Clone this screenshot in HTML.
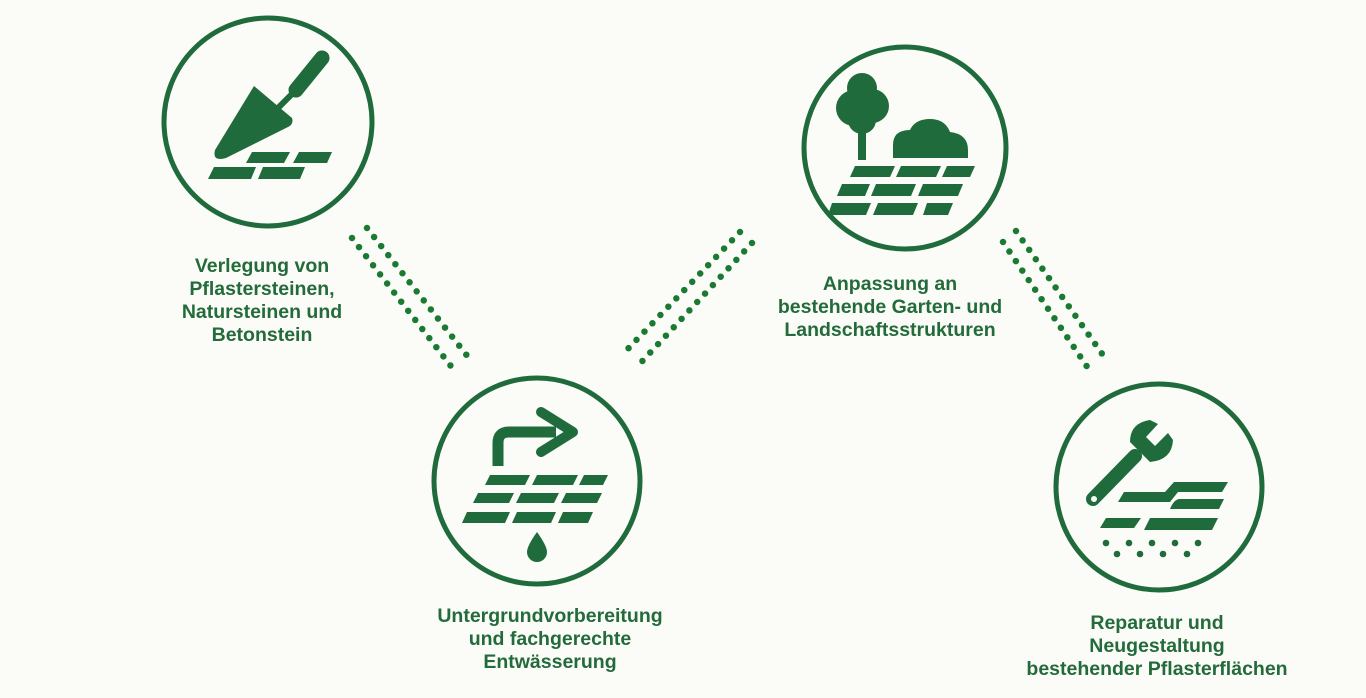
<!DOCTYPE html>
<html><head><meta charset="utf-8"><style>
html,body{margin:0;padding:0;background:#fbfbf7;}
svg{display:block}
text{font-family:"Liberation Sans",Arial,sans-serif;font-weight:bold;font-size:19.5px;fill:#236b3a;text-anchor:middle}
</style></head><body>
<svg width="1366" height="698" viewBox="0 0 1366 698" xmlns="http://www.w3.org/2000/svg">
<rect width="1366" height="698" fill="#fbfbf7"/>
<g fill="none" stroke="#1f6b3b" stroke-width="5">
<circle cx="268" cy="122" r="104"/>
<circle cx="537" cy="481" r="103"/>
<circle cx="905" cy="148" r="101"/>
<circle cx="1159" cy="487" r="103"/>
</g>
<g stroke="#1a7a32" stroke-width="6.5" stroke-linecap="round" stroke-dasharray="0 11.5" fill="none">
<line x1="352" y1="238" x2="457" y2="374"/>
<line x1="367" y1="228" x2="472" y2="362"/>
<line x1="740" y1="232" x2="622" y2="355"/>
<line x1="752" y1="243" x2="635" y2="369"/>
<line x1="1016" y1="231" x2="1105" y2="358"/>
<line x1="1003" y1="242" x2="1090" y2="371"/>
</g>
<g fill="#1f6b3b">
<line x1="322" y1="58" x2="296" y2="90" stroke="#1f6b3b" stroke-width="15" stroke-linecap="round"/>
<line x1="296" y1="90" x2="268" y2="118" stroke="#1f6b3b" stroke-width="6"/>
<path d="M254 86 L292 118 Q294 124 288 127 L226 158 Q212 162 215 150 Z"/>
<path d="M252 152 L290 152 L284 163 L246 163 Z"/>
<path d="M299 152 L332 152 L327 163 L293 163 Z"/>
<path d="M214 167 L256 167 L251 179 L208 179 Z"/>
<path d="M263 167 L305 167 L300 179 L258 179 Z"/>
<path d="M498 466 L498 443 Q498 432 509 432 L556 432" fill="none" stroke="#1f6b3b" stroke-width="11"/>
<path d="M541 412 L573 432 L541 452" fill="none" stroke="#1f6b3b" stroke-width="10" stroke-linejoin="round" stroke-linecap="round"/>
<path d="M490 475 L530 475 L525 485 L485 485 Z"/>
<path d="M537 475 L578 475 L573 485 L532 485 Z"/>
<path d="M584 475 L608 475 L603 485 L579 485 Z"/>
<path d="M478 493 L514 493 L509 503 L473 503 Z"/>
<path d="M521 493 L559 493 L554 503 L516 503 Z"/>
<path d="M566 493 L602 493 L597 503 L561 503 Z"/>
<path d="M467 512 L510 512 L505 523 L462 523 Z"/>
<path d="M517 512 L556 512 L551 523 L512 523 Z"/>
<path d="M563 512 L593 512 L588 523 L558 523 Z"/>
<path d="M537 532 Q527 546 527 552 A10 10 0 0 0 547 552 Q547 546 537 532 Z"/>
<circle cx="862" cy="88" r="15"/>
<circle cx="854" cy="108" r="18"/>
<circle cx="872" cy="106" r="17"/>
<circle cx="862" cy="120" r="14"/>
<rect x="858" y="120" width="8" height="40"/>
<path d="M893 158 L893 145 Q893 130 910 130 Q915 119 930 119 Q945 119 950 132 Q968 134 968 150 L968 158 Z"/>
<path d="M855 166 L895 166 L890 177 L850 177 Z"/>
<path d="M901 166 L941 166 L936 177 L896 177 Z"/>
<path d="M947 166 L975 166 L970 177 L942 177 Z"/>
<path d="M842 184 L870 184 L865 196 L837 196 Z"/>
<path d="M876 184 L916 184 L911 196 L871 196 Z"/>
<path d="M923 184 L963 184 L958 196 L918 196 Z"/>
<path d="M832 203 L871 203 L866 215 L828 215 Z"/>
<path d="M878 203 L918 203 L913 215 L873 215 Z"/>
<path d="M927 203 L953 203 L948 215 L923 215 Z"/>
<line x1="1135" y1="456" x2="1093" y2="499" stroke="#1f6b3b" stroke-width="14" stroke-linecap="round"/>
<path d="M1130 442 Q1130 423 1150 420 L1158 424 L1146 437 L1155 446 L1168 433 L1173 440 Q1172 460 1150 462 Z"/>
<circle cx="1094" cy="499" r="3" fill="#fbfbf7"/>
<path d="M1174 482 L1228 482 L1222 492 L1178 492 L1170 502 L1118 502 L1124 492 L1165 492 Z"/>
<path d="M1180 499 L1224 499 L1219 509 L1170 509 Q1174 499 1180 499 Z"/>
<path d="M1106 518 L1141 518 L1134 528 L1100 528 Z"/>
<path d="M1150 518 L1218 518 L1212 530 L1144 530 Z"/>
<circle cx="1106" cy="543" r="3.3"/><circle cx="1129" cy="543" r="3.3"/><circle cx="1152" cy="543" r="3.3"/><circle cx="1175" cy="543" r="3.3"/><circle cx="1198" cy="543" r="3.3"/>
<circle cx="1117" cy="554" r="3.3"/><circle cx="1140" cy="554" r="3.3"/><circle cx="1163" cy="554" r="3.3"/><circle cx="1187" cy="554" r="3.3"/>
</g>
<text x="262" y="272">Verlegung von</text>
<text x="262" y="295">Pflastersteinen,</text>
<text x="262" y="318">Natursteinen und</text>
<text x="262" y="341">Betonstein</text>
<text x="890" y="290">Anpassung an</text>
<text x="890" y="313">bestehende Garten- und</text>
<text x="890" y="336">Landschaftsstrukturen</text>
<text x="550" y="622">Untergrundvorbereitung</text>
<text x="550" y="645">und fachgerechte</text>
<text x="550" y="668">Entwässerung</text>
<text x="1157" y="629">Reparatur und</text>
<text x="1157" y="652">Neugestaltung</text>
<text x="1157" y="675">bestehender Pflasterflächen</text>
</svg>
</body></html>
